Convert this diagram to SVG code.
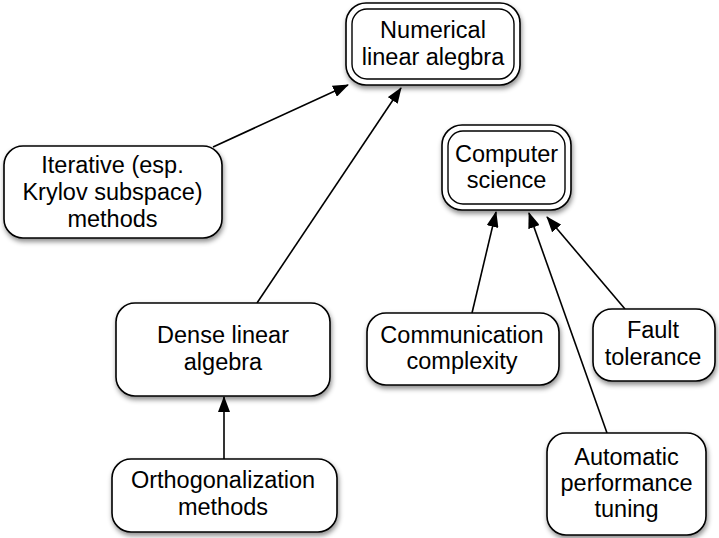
<svg xmlns="http://www.w3.org/2000/svg" width="719" height="538" viewBox="0 0 719 538">
  <style>
    .box { fill: #ffffff; stroke: #000000; stroke-width: 1.6; }
    .inner { fill: none; stroke: #000000; stroke-width: 1.4; }
    .label { font-family: "Liberation Sans", Arial, Helvetica, sans-serif; font-size: 23.5px; fill: #000000; text-anchor: middle; }
    .edge { stroke: #000000; stroke-width: 1.6; fill: none; marker-end: url(#arrow); }
  </style>
  <defs>
    <filter id="shadow" x="-20%" y="-20%" width="140%" height="150%">
      <feDropShadow dx="1" dy="3" stdDeviation="2.5" flood-color="#000000" flood-opacity="0.45"/>
    </filter>
    <marker id="arrow" viewBox="0 0 16 12" refX="15" refY="6" markerWidth="16" markerHeight="12" markerUnits="userSpaceOnUse" orient="auto">
      <path d="M0,0 L16,6 L0,12 z" fill="#000000"/>
    </marker>
  </defs>
  <rect width="719" height="538" fill="#ffffff"/>

  <g id="connectors">
    <line class="edge" x1="213" y1="147" x2="348" y2="85"/>
    <line class="edge" x1="257" y1="303" x2="401" y2="88"/>
    <line class="edge" x1="224" y1="459" x2="224" y2="397"/>
    <line class="edge" x1="472" y1="313" x2="496" y2="212"/>
    <line class="edge" x1="607" y1="433" x2="529" y2="213"/>
    <line class="edge" x1="625" y1="309" x2="547" y2="217"/>
  </g>

  <g id="numerical-linear-algebra">
    <rect class="box" x="346" y="3" width="174" height="82" rx="20" filter="url(#shadow)"/>
    <rect class="inner" x="352" y="9" width="162" height="70" rx="15"/>
    <text class="label" x="433" y="38">Numerical</text>
    <text class="label" x="433" y="65">linear alegbra</text>
  </g>

  <g id="computer-science">
    <rect class="box" x="442" y="125" width="129" height="85" rx="20" filter="url(#shadow)"/>
    <rect class="inner" x="448" y="131" width="117" height="73" rx="15"/>
    <text class="label" x="506.5" y="162">Computer</text>
    <text class="label" x="506.5" y="188">science</text>
  </g>

  <g id="iterative-methods">
    <rect class="box" x="4" y="146" width="218" height="92" rx="19" filter="url(#shadow)"/>
    <text class="label" x="112.5" y="173">Iterative (esp.</text>
    <text class="label" x="112.5" y="200">Krylov subspace)</text>
    <text class="label" x="112.5" y="227">methods</text>
  </g>

  <g id="dense-linear-algebra">
    <rect class="box" x="116" y="303" width="214" height="93" rx="19" filter="url(#shadow)"/>
    <text class="label" x="223" y="343">Dense linear</text>
    <text class="label" x="223" y="370">algebra</text>
  </g>

  <g id="orthogonalization-methods">
    <rect class="box" x="112" y="459" width="225" height="73" rx="19" filter="url(#shadow)"/>
    <text class="label" x="223" y="488">Orthogonalization</text>
    <text class="label" x="223" y="515">methods</text>
  </g>

  <g id="communication-complexity">
    <rect class="box" x="367" y="313" width="192" height="72" rx="19" filter="url(#shadow)"/>
    <text class="label" x="462" y="343">Communication</text>
    <text class="label" x="462" y="369">complexity</text>
  </g>

  <g id="fault-tolerance">
    <rect class="box" x="593" y="309" width="122" height="72" rx="19" filter="url(#shadow)"/>
    <text class="label" x="653" y="338">Fault</text>
    <text class="label" x="653" y="365">tolerance</text>
  </g>

  <g id="automatic-performance-tuning">
    <rect class="box" x="547" y="433" width="159" height="102" rx="19" filter="url(#shadow)"/>
    <text class="label" x="626.5" y="465">Automatic</text>
    <text class="label" x="626.5" y="491">performance</text>
    <text class="label" x="626.5" y="517">tuning</text>
  </g>
</svg>
